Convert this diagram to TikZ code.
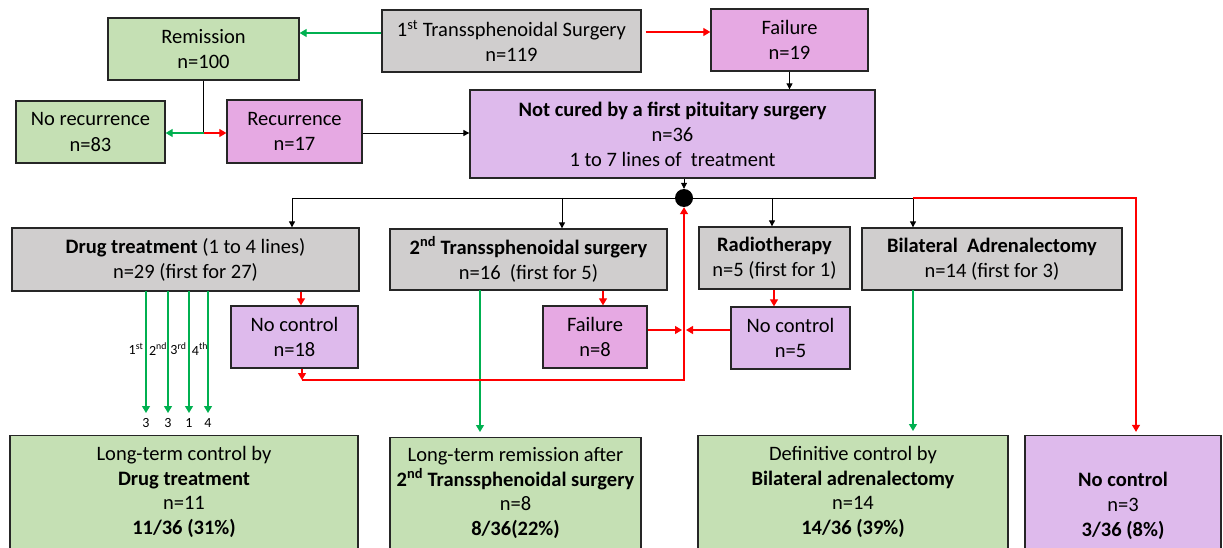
\documentclass[tikz,border=0pt]{standalone}
\usepackage{fontspec}
\setmainfont{Carlito}
\usetikzlibrary{arrows.meta}
\definecolor{gfill}{HTML}{C5E0B4}
\definecolor{grayfill}{HTML}{D0CECE}
\definecolor{pinkfill}{HTML}{E6A9E3}
\definecolor{lavfill}{HTML}{DEBAEC}
\definecolor{gline}{HTML}{00B050}
\definecolor{rline}{HTML}{FF0000}
\definecolor{bord}{HTML}{262626}
\tikzset{
  box/.style={draw=bord, line width=1.3pt, align=center, inner sep=0pt, anchor=center,
    font=\fontsize{20.5}{25}\selectfont},
  gbox/.style={box, fill=gfill},
  graybox/.style={box, fill=grayfill},
  pbox/.style={box, fill=pinkfill},
  lbox/.style={box, fill=lavfill},
  outbox/.style={minimum height=113pt, font=\fontsize{20.5}{24.7}\selectfont},
  barrow/.style={draw=black, line width=0.9pt, -{Triangle[width=6pt,length=6pt]}},
  garrow/.style={draw=gline, line width=1.2pt, -{Triangle[width=8pt,length=7pt]}},
  rarrow/.style={draw=rline, line width=1.2pt, -{Triangle[width=8pt,length=7pt]}},
  bline/.style={draw=black, line width=0.9pt},
  rline/.style={draw=rline, line width=1.2pt},
  small/.style={font=\fontsize{14}{16}\selectfont, inner sep=0pt},
}
\begin{document}
\begin{tikzpicture}[x=1pt,y=-1pt]
\useasboundingbox (0,0) rectangle (1223,548);
% top row
\node[gbox, minimum width=191pt, minimum height=62pt] (rem) at (203.5,49) {Remission\\n=100};
\node[graybox, minimum width=259pt, minimum height=62pt] (tss1) at (511.5,41) {1\textsuperscript{st} Transsphenoidal Surgery\\n=119};
\node[pbox, minimum width=157pt, minimum height=62pt] (fail1) at (789.5,40) {Failure\\n=19};
\node[lbox, minimum width=405pt, minimum height=88pt] (notcured) at (672.5,134) {\textbf{Not cured by a first pituitary surgery}\\n=36\\1 to 7 lines of\ \ treatment};
\node[gbox, minimum width=149pt, minimum height=62pt] (norec) at (90.5,132) {No recurrence\\n=83};
\node[pbox, minimum width=135pt, minimum height=63pt] (rec) at (294.5,131.5) {Recurrence\\n=17};
\node[circle, fill=black, minimum size=18pt, inner sep=0pt] (dot) at (684,198) {};
% treatment row
\node[graybox, minimum width=347pt, minimum height=63pt] (drug) at (185.5,259.5) {\textbf{Drug treatment} (1 to 4 lines)\\n=29 (first for 27)};
\node[graybox, minimum width=277pt, minimum height=61pt] (tss2) at (528.5,259.5) {\textbf{2\textsuperscript{nd} Transsphenoidal surgery}\\n=16\ \ (first for 5)};
\node[graybox, minimum width=151pt, minimum height=62pt] (radio) at (774.5,258) {\textbf{Radiotherapy}\\n=5 (first for 1)};
\node[graybox, minimum width=260pt, minimum height=62pt] (bil) at (992,259) {\textbf{Bilateral\ \ Adrenalectomy}\\n=14 (first for 3)};
% failure row
\node[lbox, minimum width=127pt, minimum height=62pt] (nc18) at (294.5,337) {No control\\n=18};
\node[pbox, minimum width=104pt, minimum height=62pt] (fail8) at (595,337) {Failure\\n=8};
\node[lbox, minimum width=119pt, minimum height=62pt] (nc5) at (790.5,338) {No control\\n=5};
% outcome row
\node[gbox, outbox, minimum width=348pt] (lt1) at (184,492) {Long-term control by\\\textbf{Drug treatment}\\n=11\\\textbf{11/36 (31\%)}};
\node[gbox, outbox, minimum width=251pt, minimum height=111pt] (lt2) at (515.5,493) {Long-term remission after\\\textbf{2\textsuperscript{nd} Transsphenoidal surgery}\\n=8\\\textbf{8/36(22\%)}};
\node[gbox, outbox, minimum width=310pt] (lt3) at (853,492) {Definitive control by\\\textbf{Bilateral adrenalectomy}\\n=14\\\textbf{14/36 (39\%)}};
\node[lbox, outbox, minimum width=196pt] (lt4) at (1123,492) {\strut\\\textbf{No control}\\n=3\\\textbf{3/36 (8\%)}};
% top connectors
\draw[garrow] ([yshift=8pt]tss1.west) -- ([yshift=8pt]tss1.west -| rem.east);
\draw[rarrow, shorten <=4pt] ([yshift=9pt]tss1.east) -- ([yshift=9pt]tss1.east -| fail1.west);
\draw[barrow] (fail1.south) -- (fail1.south |- notcured.north);
\coordinate (j1) at (203.5,133);
\draw[bline] (rem.south) -- (j1);
\draw[garrow] (j1) -- (j1 -| norec.east);
\draw[rarrow] (j1) -- (j1 -| rec.west);
\draw[barrow] (rec.east |- 0,133) -- (notcured.west |- 0,133);
\draw[barrow] (dot |- notcured.south) -- (dot.north);
% bus
\coordinate (bL) at (292,198);
\coordinate (b2) at (562,198);
\coordinate (b3) at (772,198);
\coordinate (bR) at (913,198);
\coordinate (bE) at (1136,198);
\draw[bline] (bL) -- (bR);
\draw[barrow] (bL) -- (bL |- drug.north);
\draw[barrow] (b2) -- (b2 |- tss2.north);
\draw[barrow] (b3) -- (b3 |- radio.north);
\draw[barrow] (bR) -- (bR |- bil.north);
\draw[rarrow, shorten >=3pt] (bR) -- (bE) -- (bE |- lt4.north);
% drug lines
\foreach \xx/\num in {146/3, 168/3, 189/1, 208/4}{
  \coordinate (d\xx) at (\xx,413);
  \draw[garrow] (\xx,291) -- (d\xx);
  \node[small] at (\xx,423) {\num};
}
\node[small] (l1) at (136,349) {1\textsuperscript{st}};
\node[small] (l2) at (158,349) {2\textsuperscript{nd}};
\node[small] (l3) at (178.5,349) {3\textsuperscript{rd}};
\node[small] (l4) at (200,349) {4\textsuperscript{th}};
% other outcome arrows
\draw[garrow, shorten >=5pt] (480,290) -- (480,437);
\draw[garrow, shorten >=4pt] (913,290) -- (913,435);
% failure arrows
\draw[rarrow] (drug.south -| 301,0) -- (nc18.north -| 301,0);
\draw[rarrow] (tss2.south -| 603,0) -- (fail8.north -| 603,0);
\draw[rarrow] (radio.south -| 774,0) -- (nc5.north -| 774,0);
\coordinate (k1) at (302,380);
\coordinate (k2) at (684,380);
\draw[rarrow] (nc18.south -| 302,0) -- (k1);
\draw[rarrow] (k1) -- (k2) -- (dot.south);
\draw[rarrow] (fail8.east |- 0,330) -- (682,330);
\draw[rarrow] (nc5.west |- 0,330) -- (686,330);
\end{tikzpicture}
\end{document}
